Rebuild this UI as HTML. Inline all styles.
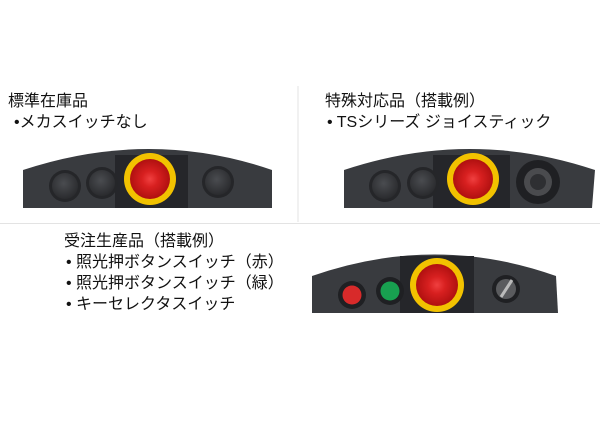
<!DOCTYPE html>
<html><head><meta charset="utf-8"><style>
html,body{margin:0;padding:0;background:#fff;}
body{width:600px;height:427px;position:relative;overflow:hidden;font-family:"Liberation Sans","Noto Sans CJK JP",sans-serif;color:#111;}
.t{position:absolute;font-size:16px;line-height:20px;white-space:nowrap;}
svg{position:absolute;left:0;top:0;}
</style></head><body>
<svg width="600" height="427" viewBox="0 0 600 427">
<defs>
<radialGradient id="red" cx="50%" cy="50%" r="50%"><stop offset="0" stop-color="#f04040"/><stop offset="0.4" stop-color="#d82020"/><stop offset="1" stop-color="#b01010"/></radialGradient>
<radialGradient id="gb" cx="45%" cy="40%" r="60%"><stop offset="0" stop-color="#4a4c50"/><stop offset="1" stop-color="#2a2b2e"/></radialGradient>
</defs>
<line x1="298" y1="86" x2="298" y2="222" stroke="#e3e3e3" stroke-width="1"/>
<line x1="0" y1="223.5" x2="600" y2="223.5" stroke="#e3e3e3" stroke-width="1"/>
<path d="M23 208 L23 170 Q150 128 272 170 L272 208 Z" fill="#393b3f"/>
<rect x="115" y="155" width="73" height="53" fill="#25262a"/>
<circle cx="65" cy="186" r="16" fill="#252629"/><circle cx="65" cy="186" r="13" fill="url(#gb)"/>
<circle cx="102" cy="183" r="16" fill="#252629"/><circle cx="102" cy="183" r="13" fill="url(#gb)"/>
<circle cx="218" cy="182" r="16" fill="#252629"/><circle cx="218" cy="182" r="13" fill="url(#gb)"/>
<circle cx="150" cy="179" r="26" fill="#f2c200"/><circle cx="150" cy="179" r="20" fill="url(#red)"/>
<path d="M344 208 L344 170 Q470 128 595 170 L592 208 Z" fill="#393b3f"/>
<rect x="433" y="155" width="77" height="53" fill="#25262a"/>
<circle cx="385" cy="186" r="16" fill="#252629"/><circle cx="385" cy="186" r="13" fill="url(#gb)"/>
<circle cx="423" cy="183" r="16" fill="#252629"/><circle cx="423" cy="183" r="13" fill="url(#gb)"/>
<circle cx="473" cy="179" r="26" fill="#f2c200"/><circle cx="473" cy="179" r="20" fill="url(#red)"/>
<circle cx="538" cy="182" r="22" fill="#1f2023"/><circle cx="538" cy="182" r="14" fill="#4a4b4e"/><circle cx="538" cy="182" r="8" fill="#2e2f32"/>
<path d="M312 313 L312 276 Q435 233 556 276 L558 313 Z" fill="#393b3f"/>
<rect x="400" y="256" width="74" height="57" fill="#25262a"/>
<circle cx="352" cy="295" r="14" fill="#1f2023"/><circle cx="352" cy="295" r="9.5" fill="#d82a2a"/>
<circle cx="390" cy="291" r="14" fill="#1f2023"/><circle cx="390" cy="291" r="9.5" fill="#18a050"/>
<circle cx="437" cy="285" r="27" fill="#f2c200"/><circle cx="437" cy="285" r="21" fill="url(#red)"/>
<circle cx="506" cy="289" r="14" fill="#1f2023"/><circle cx="506" cy="289" r="10" fill="#5a5b5e"/>
<line x1="501" y1="297" x2="512" y2="280" stroke="#bbb" stroke-width="3"/>
</svg>
<div class="t" style="left:8px;top:92px;">標準在庫品</div>
<div class="t" style="left:14px;top:113px;">•メカスイッチなし</div>
<div class="t" style="left:325px;top:92px;">特殊対応品（搭載例）</div>
<div class="t" style="left:327px;top:113px;">• TSシリーズ ジョイスティック</div>
<div class="t" style="left:64px;top:232px;">受注生産品（搭載例）</div>
<div class="t" style="left:66px;top:253px;">• 照光押ボタンスイッチ（赤）</div>
<div class="t" style="left:66px;top:274px;">• 照光押ボタンスイッチ（緑）</div>
<div class="t" style="left:66px;top:295px;">• キーセレクタスイッチ</div>
</body></html>
